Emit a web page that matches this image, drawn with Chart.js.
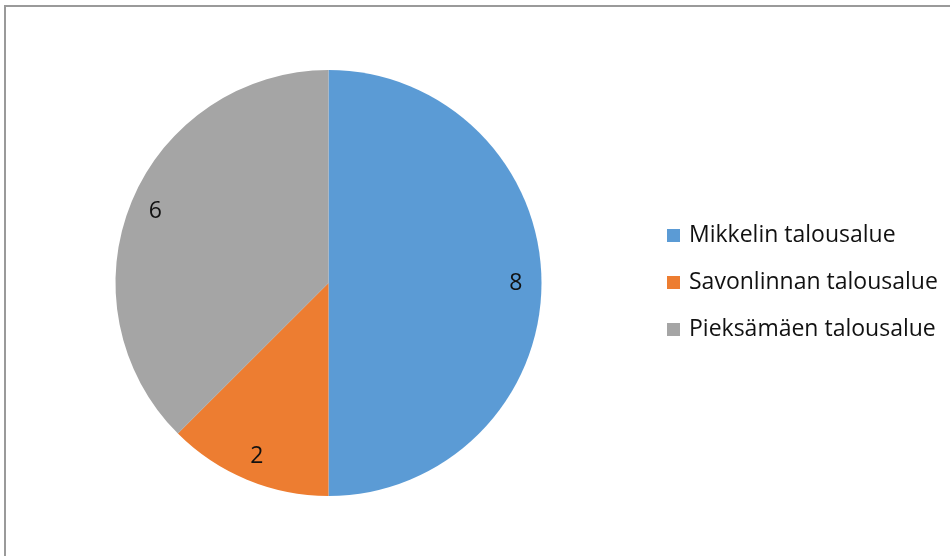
<!DOCTYPE html>
<html>
<head>
<meta charset="utf-8">
<script src="https://cdn.jsdelivr.net/npm/chart.js@4/dist/chart.umd.min.js"></script>
<style>
  html, body { margin: 0; padding: 0; background: #fff; overflow: hidden; }
  #wrap { position: absolute; left: 0; top: 0; width: 950px; height: 556px; }
</style>
</head>
<body>
<div id="wrap"><canvas id="c" width="950" height="556"></canvas></div>
<script>
// Talousalueet ja niiden lukumäärät
const categories = ['Mikkelin talousalue', 'Savonlinnan talousalue', 'Pieksämäen talousalue'];
const values = [8, 2, 6];
const colors = ['#5B9BD5', '#ED7D31', '#A5A5A5'];

const FONT = '"Open Sans", "DejaVu Sans", sans-serif';

// Kehys, arvotekstit ja selite piirretään kaaviolle omilla lisäosilla
const framePlugin = {
  id: 'frame',
  beforeDraw(chart) {
    const ctx = chart.ctx;
    ctx.save();
    ctx.fillStyle = '#ffffff';
    ctx.fillRect(0, 0, chart.width, chart.height);
    ctx.strokeStyle = '#9a9a9a';
    ctx.lineWidth = 2;
    ctx.beginPath();
    ctx.moveTo(5, chart.height);
    ctx.lineTo(5, 6);
    ctx.lineTo(chart.width, 6);
    ctx.stroke();
    ctx.restore();
  }
};

const valueLabels = {
  id: 'valueLabels',
  afterDatasetsDraw(chart) {
    const ctx = chart.ctx;
    const meta = chart.getDatasetMeta(0);
    ctx.save();
    ctx.font = '23px ' + FONT;
    ctx.fillStyle = '#111111';
    ctx.textAlign = 'center';
    ctx.textBaseline = 'middle';
    meta.data.forEach((arc, i) => {
      const p = arc.getProps(['x', 'y', 'startAngle', 'endAngle', 'outerRadius'], true);
      const mid = (p.startAngle + p.endAngle) / 2;
      const r = p.outerRadius * 0.88;
      ctx.fillText(String(chart.data.datasets[0].data[i]), p.x + Math.cos(mid) * r, p.y + Math.sin(mid) * r);
    });
    ctx.restore();
  }
};

const sideLegend = {
  id: 'sideLegend',
  afterDraw(chart) {
    const ctx = chart.ctx;
    const x0 = 667, y0 = 235.5, step = 47, box = 13;
    ctx.save();
    ctx.font = '23px ' + FONT;
    ctx.textBaseline = 'middle';
    ctx.textAlign = 'left';
    chart.data.labels.forEach((lab, i) => {
      const y = y0 + i * step;
      ctx.fillStyle = chart.data.datasets[0].backgroundColor[i];
      ctx.fillRect(x0, y - box / 2, box, box);
      ctx.fillStyle = '#111111';
      ctx.fillText(lab, x0 + 22, y);
    });
    ctx.restore();
  }
};

new Chart(document.getElementById('c'), {
  type: 'pie',
  data: {
    labels: categories,
    datasets: [{
      data: values,
      backgroundColor: colors,
      borderWidth: 0
    }]
  },
  options: {
    responsive: false,
    animation: false,
    layout: { padding: { left: 115, top: 70, right: 408, bottom: 60 } },
    plugins: {
      legend: { display: false },
      tooltip: { enabled: false },
      title: { display: false }
    }
  },
  plugins: [framePlugin, valueLabels, sideLegend]
});
</script>
</body>
</html>
